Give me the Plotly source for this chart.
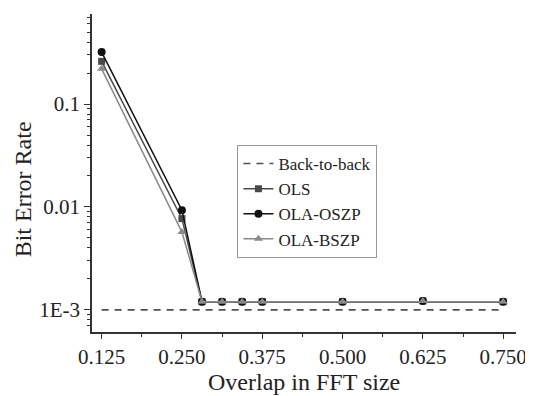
import plotly.graph_objects as go

overlap = [0.125, 0.25, 0.28125, 0.3125, 0.34375, 0.375, 0.5, 0.625, 0.75]
ber_ols = [0.26, 0.0077, 0.0012, 0.0012, 0.0012, 0.0012, 0.0012, 0.00122, 0.0012]
ber_oszp = [0.32, 0.0093, 0.0012, 0.0012, 0.0012, 0.0012, 0.0012, 0.00122, 0.0012]
ber_bszp = [0.22, 0.0057, 0.0012, 0.0012, 0.0012, 0.0012, 0.0012, 0.00122, 0.0012]
b2b_x = [0.125, 0.75]
b2b_y = [0.001, 0.001]

x_ticks = [0.125, 0.250, 0.375, 0.500, 0.625, 0.750]
x_ticktext = ["0.125", "0.250", "0.375", "0.500", "0.625", "0.750"]
y_ticks = [0.001, 0.01, 0.1]
y_ticktext = ["1E-3", "0.01", "0.1"]

FONT = "Liberation Serif, Times New Roman, serif"

fig = go.Figure()
fig.add_trace(go.Scatter(x=b2b_x, y=b2b_y, mode="lines", name="Back-to-back",
                         line=dict(color="#505050", width=1.6, dash="7px,6px")))
fig.add_trace(go.Scatter(x=overlap, y=ber_ols, mode="lines+markers", name="OLS",
                         line=dict(color="#4a4a4a", width=1.5),
                         marker=dict(symbol="square", size=7, color="#4a4a4a")))
fig.add_trace(go.Scatter(x=overlap, y=ber_oszp, mode="lines+markers", name="OLA-OSZP",
                         line=dict(color="#111111", width=1.5),
                         marker=dict(symbol="circle", size=8, color="#111111")))
fig.add_trace(go.Scatter(x=overlap, y=ber_bszp, mode="lines+markers", name="OLA-BSZP",
                         line=dict(color="#8a8a8a", width=1.5),
                         marker=dict(symbol="triangle-up", size=8, color="#8a8a8a")))

minor_y = [m * 10 ** e for e in range(-4, 0) for m in range(2, 10)]
minor_x = [0.1875, 0.3125, 0.4375, 0.5625, 0.6875]

fig.update_layout(
    width=525, height=388,
    margin=dict(l=84, r=15, t=6, b=64),
    paper_bgcolor="white", plot_bgcolor="white",
    font=dict(family=FONT, size=21, color="#222"),
    showlegend=True,
    legend=dict(x=0.343, y=0.588, xanchor="left", yanchor="top",
                bordercolor="#999", borderwidth=1, bgcolor="white",
                font=dict(family=FONT, size=17, color="#222"),
                tracegroupgap=0, itemwidth=30),
    xaxis=dict(range=[0.110, 0.770], tickvals=x_ticks, ticktext=x_ticktext,
               showgrid=False, zeroline=False, showline=True, linecolor="#333",
               linewidth=1.5, ticks="outside", ticklen=5, tickwidth=1.2,
               tickcolor="#333",
               minor=dict(tickvals=minor_x, ticks="outside", ticklen=3,
                          tickcolor="#333", showgrid=False)),
    yaxis=dict(type="log", range=[-3.215, -0.125], tickvals=y_ticks,
               ticktext=y_ticktext, showgrid=False, zeroline=False,
               showline=True, linecolor="#333", linewidth=1.5,
               ticks="outside", ticklen=6, tickwidth=1.2, tickcolor="#333",
               minor=dict(tickvals=minor_y, ticks="outside", ticklen=3,
                          tickcolor="#333", showgrid=False)),
    annotations=[
        dict(text="Overlap in FFT size", xref="paper", yref="paper",
             x=0.5, y=-0.158, xanchor="center", yanchor="middle",
             showarrow=False, font=dict(family=FONT, size=24, color="#222")),
        dict(text="Bit Error Rate", xref="paper", yref="paper",
             x=-0.164, y=0.45, xanchor="center", yanchor="middle",
             textangle=-90, showarrow=False,
             font=dict(family=FONT, size=24, color="#222")),
    ],
)

fig.write_html("out.html")
